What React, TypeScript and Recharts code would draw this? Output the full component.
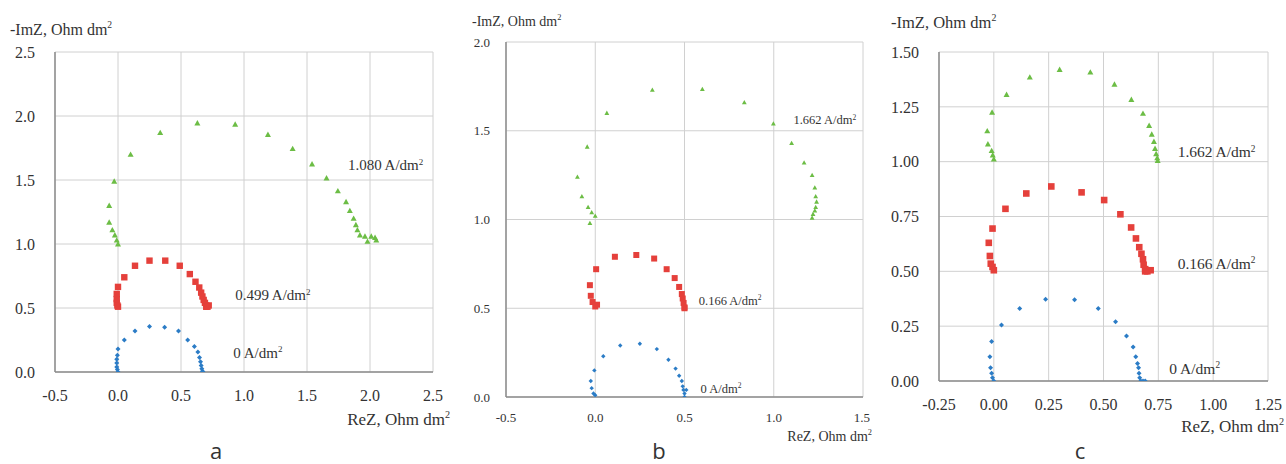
import React from 'react';
import { ScatterChart, Scatter, XAxis, YAxis, CartesianGrid, ReferenceDot } from 'recharts';

// ---------- Panel a ----------
const A_X_TICKS = [-0.5, 0, 0.5, 1, 1.5, 2, 2.5];
const A_Y_TICKS = [0, 0.5, 1, 1.5, 2, 2.5];
const A_BLUE: [number, number][] = [
  [0, 0], [-0.005, 0.02], [-0.01, 0.04], [-0.01, 0.07], [-0.01, 0.1], [-0.005, 0.13], [0, 0.18],
  [0.05, 0.25], [0.135, 0.32], [0.25, 0.355], [0.37, 0.35], [0.48, 0.32], [0.553, 0.25],
  [0.606, 0.2], [0.634, 0.157], [0.647, 0.113], [0.655, 0.08], [0.66, 0.05], [0.665, 0.025],
  [0.67, 0.005], [0.675, 0],
];
const A_RED: [number, number][] = [
  [0, 0.51], [-0.005, 0.52], [-0.01, 0.54], [-0.01, 0.57], [-0.01, 0.61], [0, 0.665],
  [0.05, 0.74], [0.135, 0.83], [0.25, 0.87], [0.375, 0.87], [0.49, 0.83], [0.57, 0.765],
  [0.615, 0.705], [0.645, 0.66], [0.66, 0.62], [0.67, 0.59], [0.68, 0.563], [0.69, 0.54],
  [0.7, 0.52], [0.72, 0.52], [0.7, 0.51], [0.71, 0.51],
];
const A_GREEN: [number, number][] = [
  [0, 1.0], [-0.01, 1.03], [-0.025, 1.07], [-0.045, 1.11], [-0.07, 1.17], [-0.07, 1.3],
  [-0.03, 1.49], [0.1, 1.7], [0.335, 1.87], [0.63, 1.945], [0.93, 1.935], [1.19, 1.855],
  [1.386, 1.745], [1.54, 1.625], [1.655, 1.515], [1.745, 1.415], [1.81, 1.33], [1.84, 1.26],
  [1.87, 1.2], [1.888, 1.15], [1.9, 1.11], [1.92, 1.07], [1.96, 1.06], [2.01, 1.06],
  [2.04, 1.05], [2.05, 1.03], [1.98, 1.02],
];
const A_LABELS: { x: number; y: number; text: string }[] = [
  { x: 1.825, y: 1.617, text: '1.080 A/dm' },
  { x: 0.93, y: 0.6, text: '0.499 A/dm' },
  { x: 0.915, y: 0.15, text: '0 A/dm' },
];

// ---------- Panel b ----------
const B_X_TICKS = [-0.5, 0, 0.5, 1, 1.5];
const B_Y_TICKS = [0, 0.5, 1, 1.5, 2];
const B_BLUE: [number, number][] = [
  [0, 0.01], [-0.01, 0.02], [-0.02, 0.05], [-0.025, 0.09], [-0.005, 0.15], [0.045, 0.23],
  [0.14, 0.29], [0.25, 0.3], [0.345, 0.27], [0.41, 0.21], [0.45, 0.16], [0.47, 0.12],
  [0.485, 0.09], [0.49, 0.06], [0.494, 0.04], [0.5, 0.02], [0.5, 0.0], [0.51, 0.04],
];
const B_RED: [number, number][] = [
  [0, 0.51], [-0.015, 0.535], [-0.025, 0.57], [-0.03, 0.63], [0.005, 0.72], [0.11, 0.79],
  [0.23, 0.8], [0.33, 0.78], [0.4, 0.72], [0.445, 0.67], [0.47, 0.62], [0.485, 0.58],
  [0.49, 0.555], [0.495, 0.53], [0.5, 0.505], [0.5, 0.5], [0.01, 0.52],
];
const B_GREEN: [number, number][] = [
  [0, 1.02], [-0.02, 1.04], [-0.03, 0.98], [-0.04, 1.07], [-0.075, 1.13], [-0.1, 1.24],
  [-0.045, 1.41], [0.065, 1.6], [0.32, 1.73], [0.6, 1.735], [0.835, 1.66], [0.998, 1.54],
  [1.1, 1.43], [1.17, 1.32], [1.215, 1.25], [1.23, 1.18], [1.235, 1.13], [1.24, 1.1],
  [1.235, 1.07], [1.23, 1.05], [1.22, 1.03], [1.215, 1.01],
];
const B_LABELS: { x: number; y: number; text: string }[] = [
  { x: 1.11, y: 1.56, text: '1.662 A/dm' },
  { x: 0.58, y: 0.545, text: '0.166 A/dm' },
  { x: 0.59, y: 0.05, text: '0 A/dm' },
];

// ---------- Panel c ----------
const C_X_TICKS = [-0.25, 0, 0.25, 0.5, 0.75, 1, 1.25];
const C_Y_TICKS = [0, 0.25, 0.5, 0.75, 1, 1.25, 1.5];
const C_BLUE: [number, number][] = [
  [0, 0], [-0.006, 0.015], [-0.01, 0.035], [-0.015, 0.06], [-0.018, 0.11], [-0.01, 0.18],
  [0.035, 0.255], [0.118, 0.33], [0.236, 0.373], [0.368, 0.37], [0.476, 0.33], [0.555, 0.27],
  [0.605, 0.205], [0.635, 0.155], [0.647, 0.11], [0.655, 0.08], [0.66, 0.06], [0.662, 0.035],
  [0.665, 0.015], [0.67, 0], [0.68, 0], [0.69, 0],
];
const C_RED: [number, number][] = [
  [0, 0.505], [-0.006, 0.52], [-0.014, 0.535], [-0.018, 0.57], [-0.023, 0.63], [-0.006, 0.695],
  [0.053, 0.785], [0.148, 0.855], [0.262, 0.887], [0.4, 0.86], [0.503, 0.825], [0.577, 0.76],
  [0.626, 0.7], [0.648, 0.65], [0.663, 0.61], [0.673, 0.58], [0.68, 0.555], [0.683, 0.53],
  [0.69, 0.51], [0.7, 0.5], [0.715, 0.505], [0.69, 0.5],
];
const C_GREEN: [number, number][] = [
  [0, 1.012], [-0.005, 1.03], [-0.01, 1.05], [-0.027, 1.08], [-0.03, 1.14], [-0.008, 1.225],
  [0.058, 1.306], [0.164, 1.385], [0.3, 1.42], [0.44, 1.408], [0.55, 1.353], [0.627, 1.283],
  [0.68, 1.22], [0.708, 1.165], [0.72, 1.125], [0.73, 1.092], [0.735, 1.06], [0.74, 1.036],
  [0.745, 1.017], [0.747, 1.005],
];
const C_LABELS: { x: number; y: number; text: string }[] = [
  { x: 0.838, y: 1.044, text: '1.662 A/dm' },
  { x: 0.838, y: 0.537, text: '0.166 A/dm' },
  { x: 0.8, y: 0.058, text: '0 A/dm' },
];

const BLUE = '#2b7cc6';
const RED = '#e5403b';
const GREEN = '#6cbd45';
const SERIF = 'Liberation Serif, DejaVu Serif, Times, serif';
const SANS = 'Open Sans, Noto Sans, sans-serif';

const toPts = (arr: [number, number][]) => arr.map(([x, y]) => ({ x, y }));

const makeDiamond = (s: number, color: string) => (p: any) => {
  const { cx, cy } = p;
  return <polygon points={`${cx},${cy - s} ${cx + s},${cy} ${cx},${cy + s} ${cx - s},${cy}`} fill={color} />;
};
const makeSquare = (s: number, color: string) => (p: any) => {
  const { cx, cy } = p;
  return <rect x={cx - s} y={cy - s} width={2 * s} height={2 * s} fill={color} />;
};
const makeTriangle = (s: number, color: string) => (p: any) => {
  const { cx, cy } = p;
  return <polygon points={`${cx},${cy - s} ${cx + s},${cy + s * 0.8} ${cx - s},${cy + s * 0.8}`} fill={color} />;
};

const makeLabel = (text: string, fs: number) => (p: any) => {
  const { cx, cy } = p;
  return (
    <text x={cx} y={cy} dy={fs * 0.35} style={{ fontFamily: SERIF }} fontSize={fs} fill="#333">
      {text}
      <tspan fontSize={fs * 0.6} dy={-fs * 0.38}>2</tspan>
    </text>
  );
};

type PanelProps = {
  left: number;
  width: number;
  margin: { top: number; right: number; bottom: number; left: number };
  xTicks: number[];
  yTicks: number[];
  digits: number;
  fs: number;
  tickMarginX: number;
  tickMarginY: number;
  blue: [number, number][];
  red: [number, number][];
  green: [number, number][];
  labels: { x: number; y: number; text: string }[];
  labelFs: number;
  mk: [number, number, number];
};

const Panel = (p: PanelProps) => {
  const fmt = (v: number) => v.toFixed(p.digits);
  const tick = { fontFamily: SERIF, style: { fontFamily: SERIF }, fontSize: p.fs, fill: '#333' };
  return (
    <div style={{ position: 'absolute', left: p.left, top: 0, fontFamily: SERIF }}>
      <ScatterChart width={p.width} height={464} margin={p.margin} style={{ fontFamily: SERIF }}>
        <CartesianGrid stroke="#d0d0d0" strokeWidth={1} />
        <XAxis
          type="number"
          dataKey="x"
          domain={[p.xTicks[0], p.xTicks[p.xTicks.length - 1]]}
          ticks={p.xTicks}
          tickFormatter={fmt}
          tick={tick}
          tickLine={false}
          axisLine={{ stroke: '#8c8c8c', strokeWidth: 1.5 }}
          tickMargin={p.tickMarginX}
          height={40}
          allowDataOverflow
        />
        <YAxis
          type="number"
          dataKey="y"
          domain={[p.yTicks[0], p.yTicks[p.yTicks.length - 1]]}
          ticks={p.yTicks}
          tickFormatter={fmt}
          tick={tick}
          tickLine={false}
          axisLine={{ stroke: '#8c8c8c', strokeWidth: 1.5 }}
          tickMargin={p.tickMarginY}
          width={50}
          allowDataOverflow
        />
        <Scatter data={toPts(p.blue)} shape={makeDiamond(p.mk[0], BLUE)} isAnimationActive={false} />
        <Scatter data={toPts(p.red)} shape={makeSquare(p.mk[1], RED)} isAnimationActive={false} />
        <Scatter data={toPts(p.green)} shape={makeTriangle(p.mk[2], GREEN)} isAnimationActive={false} />
        {p.labels.map((l, i) => (
          <ReferenceDot key={i} x={l.x} y={l.y} r={0} shape={makeLabel(l.text, p.labelFs)} ifOverflow="visible" />
        ))}
      </ScatterChart>
    </div>
  );
};

const Title = ({ x, y, fs, text, align }: { x: number; y: number; fs: number; text: string; align?: 'left' | 'right' }) => (
  <div
    style={{
      position: 'absolute',
      top: y - fs * 0.6,
      left: align === 'right' ? undefined : x,
      right: align === 'right' ? 1286 - x : undefined,
      fontFamily: SERIF,
      fontSize: fs,
      lineHeight: `${fs * 1.2}px`,
      color: '#333',
      whiteSpace: 'nowrap',
    }}
  >
    {text}
    <sup style={{ fontSize: fs * 0.6, verticalAlign: 'top', lineHeight: '1' }}>2</sup>
  </div>
);

const Letter = ({ cx, text }: { cx: number; text: string }) => (
  <div
    style={{
      position: 'absolute',
      top: 436,
      left: cx - 20,
      width: 40,
      textAlign: 'center',
      fontFamily: SANS,
      fontSize: 22,
      lineHeight: '28px',
      color: '#333',
    }}
  >
    {text}
  </div>
);

export default function App() {
  return (
    <div style={{ position: 'absolute', left: 0, top: 0, width: 1286, height: 464, background: '#fff', overflow: 'hidden' }}>
      <Panel
        left={0}
        width={450}
        margin={{ top: 52, right: 17, bottom: 464 - 372 - 40, left: 55 - 50 }}
        xTicks={A_X_TICKS}
        yTicks={A_Y_TICKS}
        digits={1}
        fs={16}
        tickMarginX={12}
        tickMarginY={14}
        blue={A_BLUE}
        red={A_RED}
        green={A_GREEN}
        labels={A_LABELS}
        labelFs={15}
        mk={[2.5, 3.2, 3]}
      />
      <Panel
        left={440}
        width={430}
        margin={{ top: 42, right: 7, bottom: 464 - 397 - 40, left: 506 - 440 - 50 }}
        xTicks={B_X_TICKS}
        yTicks={B_Y_TICKS}
        digits={1}
        fs={13}
        tickMarginX={10}
        tickMarginY={10}
        blue={B_BLUE}
        red={B_RED}
        green={B_GREEN}
        labels={B_LABELS}
        labelFs={12.5}
        mk={[2.2, 3, 2.4]}
      />
      <Panel
        left={870}
        width={416}
        margin={{ top: 52, right: 18, bottom: 464 - 381 - 40, left: 939 - 870 - 50 }}
        xTicks={C_X_TICKS}
        yTicks={C_Y_TICKS}
        digits={2}
        fs={16}
        tickMarginX={12}
        tickMarginY={14}
        blue={C_BLUE}
        red={C_RED}
        green={C_GREEN}
        labels={C_LABELS}
        labelFs={15.5}
        mk={[2.5, 3.3, 3]}
      />
      <Title x={10} y={30} fs={16} text="-ImZ, Ohm dm" />
      <Title x={450} y={420} fs={17} text="ReZ, Ohm dm" align="right" />
      <Title x={472} y={22} fs={14} text="-ImZ, Ohm dm" />
      <Title x={872} y={437} fs={14} text="ReZ, Ohm dm" align="right" />
      <Title x={891} y={23} fs={16.5} text="-ImZ, Ohm dm" />
      <Title x={1284} y={427} fs={17} text="ReZ, Ohm dm" align="right" />
      <Letter cx={216} text="a" />
      <Letter cx={659} text="b" />
      <Letter cx={1080} text="c" />
    </div>
  );
}
